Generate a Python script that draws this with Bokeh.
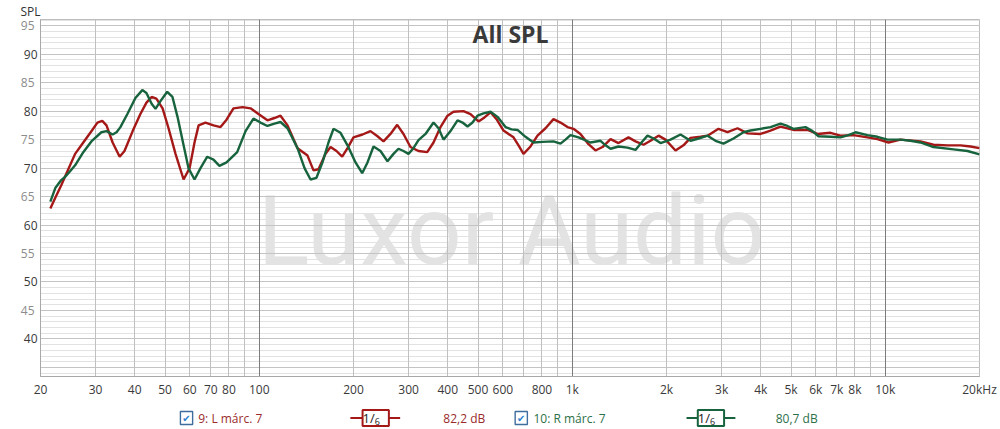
from bokeh.plotting import figure
from bokeh.layouts import column
from bokeh.models import Range1d, FixedTicker, Grid, Label, ColumnDataSource, LinearAxis
from bokeh.core.properties import value
from bokeh.embed import file_html
from bokeh.resources import INLINE

# ---------------- data ----------------
freq_l = [21.5, 22.3, 23.3, 24.4, 25.8, 27.4, 29.2, 30.4, 31.5, 32.5, 34.0, 35.8, 37.1, 39.4, 41.7,
          43.6, 45.3, 46.9, 49.1, 51.3, 54.0, 57.3, 59.9, 62.1, 64.0, 67.3, 71.4, 75.2, 78.6, 82.7,
          88.4, 93.8, 99.4, 106.2, 111.8, 116.9, 123.1, 132.5, 142.6, 149.0, 154.6, 162.8, 168.9,
          176.5, 184.0, 191.4, 200, 213.7, 226.6, 238.6, 249.4, 262.5, 275.8, 288.9, 304.1, 322.6,
          344.0, 360.3, 379.3, 399.4, 417.4, 449.3, 473.0, 501.7, 524.3, 548.0, 572.7, 603.0, 649.0,
          673.3, 698.5, 735.4, 774.3, 821.2, 870.9, 916.9, 965.4, 1009, 1062, 1127, 1186, 1249, 1325,
          1405, 1512, 1592, 1689, 1778, 1886, 1985, 2137, 2266, 2386, 2569, 2705, 2932, 3133, 3372,
          3629, 3993, 4298, 4625, 5089, 5643, 6074, 6684, 7193, 7915, 8773, 9443, 10240, 11185,
          12956, 14257, 15806, 17394, 18718, 20000]
spl_l = [62.9, 64.8, 67.0, 69.5, 72.5, 74.5, 76.6, 78.0, 78.3, 77.5, 74.5, 72.0, 73.0, 76.5, 79.5,
         81.5, 82.5, 82.2, 80.5, 77.0, 72.5, 68.0, 70.0, 74.5, 77.5, 78.0, 77.5, 77.2, 78.5, 80.5,
         80.7, 80.5, 79.5, 78.4, 78.8, 79.2, 77.5, 73.5, 72.2, 69.6, 69.8, 72.5, 73.7,
         73.0, 72.0, 73.5, 75.4, 75.9, 76.5, 75.6, 74.7, 76.0, 77.6, 76.0, 73.7, 73.0,
         72.8, 74.5, 77.2, 79.2, 79.9, 80.0, 79.5, 78.2, 78.9, 79.8, 78.6, 76.6, 75.4,
         74.0, 72.5, 73.8, 75.7, 77.0, 78.6, 78.0, 77.2, 76.9, 76.0, 74.2, 73.1, 73.7, 75.1,
         74.4, 75.4, 74.7, 74.1, 74.8, 75.7, 75.0, 73.1, 74.0, 75.3, 75.5, 75.7, 76.9, 76.3, 77.0,
         76.1, 76.0, 76.6, 77.3, 76.7, 76.7, 76.0, 76.2, 75.7, 75.8, 75.4, 75.1, 74.5, 75.0,
         74.7, 74.1, 74.0, 74.0, 73.8, 73.5]

freq_r = [21.5, 22.3, 23.3, 24.0, 24.9, 25.8, 27.4, 29.2, 31.3, 32.5, 34.0, 35.0, 36.0, 37.9, 40.2,
          42.3, 43.6, 45.3, 46.6, 48.4, 50.8, 52.8, 54.8, 57.3, 59.4, 62.1, 64.9, 68.2, 71.4, 74.6,
          78.6, 85.0, 90.4, 95.8, 100.9, 106.2, 111.8, 116.9, 123.1, 132.5, 139.5, 145.8, 152.3,
          159.2, 166.4, 172.6, 181.8, 191.4, 203.0, 213.2, 221.7, 231.7, 243.9, 256.8, 268.4, 278.4,
          288.9, 299.7, 310.9, 322.6, 339.7, 360.3, 373.8, 387.8, 408.3, 429.9, 446.0, 462.7, 480.0,
          498.0, 520.5, 548.0, 576.9, 611.9, 639.5, 668.4, 708.9, 751.8, 803.2, 870.9, 916.9, 951.3,
          987.0, 1047, 1143, 1231, 1277, 1325, 1405, 1501, 1592, 1664, 1739, 1818, 1914, 2060, 2217,
          2386, 2532, 2705, 2868, 3042, 3274, 3524, 3710, 3993, 4298, 4625, 4870, 5089, 5561, 5855,
          6119, 6684, 7193, 7629, 8032, 8773, 9443, 10165, 11185, 12040, 12956, 14257, 16521,
          18309, 20000]
spl_r = [64.1, 66.5, 67.9, 68.5, 69.5, 70.5, 72.8, 74.8, 76.3, 76.5, 75.9, 76.3, 77.2, 79.5, 82.3,
         83.7, 83.2, 81.3, 80.4, 81.8, 83.4, 82.5, 79.0, 74.0, 70.0, 68.0, 70.0, 72.0, 71.5, 70.4,
         71.0, 72.8, 76.5, 78.7, 78.0, 77.4, 77.8, 78.1, 77.0, 73.5, 70.0, 68.0, 68.3,
         71.0, 74.5, 76.9, 76.2, 74.0, 71.0, 69.1, 71.0, 73.8, 73.0, 71.2, 72.5, 73.4,
         73.0, 72.5, 73.5, 74.9, 76.0, 78.0, 77.0, 75.0, 76.5, 78.4, 78.0, 77.3, 78.0,
         79.2, 79.6, 79.9, 79.0, 77.2, 76.8, 76.7, 75.5, 74.5, 74.6, 74.7, 74.3, 75.0,
         75.8, 75.4, 74.5, 74.8, 74.0, 73.4, 73.8, 73.6, 73.2, 74.5, 75.7, 75.2, 74.4, 75.0, 75.9,
         74.8, 75.2, 75.7, 74.8, 74.3, 75.2, 76.3, 76.6, 76.9, 77.2, 77.8, 77.4, 76.9, 77.2, 76.5,
         75.6, 75.5, 75.4, 75.8, 76.3, 75.8, 75.5, 75.0, 75.0, 74.8, 74.5, 73.7, 73.3,
         73.0, 72.4]

x_ticks = [20, 30, 40, 50, 60, 70, 80, 100, 200, 300, 400, 500, 600, 800, 1000,
           2000, 3000, 4000, 5000, 6000, 7000, 8000, 10000, 20000]
x_tick_text = ["20", "30", "40", "50", "60", "70", "80", "100", "200", "300", "400", "500", "600",
               "800", "1k", "2k", "3k", "4k", "5k", "6k", "7k", "8k", "10k", "20kHz"]
y_ticks_dark = [40, 50, 60, 70, 80, 90]
y_ticks_light = [45, 55, 65, 75, 85, 95]
x_grid_minor = [30, 40, 50, 60, 70, 80, 90, 200, 300, 400, 500, 600, 700, 800, 900,
                2000, 3000, 4000, 5000, 6000, 7000, 8000, 9000]
x_grid_decade = [100, 1000, 10000]
y_grid_fine = list(range(34, 97))
y_grid_five = list(range(35, 96, 5))

legend_names = ["9: L márc. 7", "10: R márc. 7"]
legend_db = ["82,2 dB", "80,7 dB"]
smooth_num = "1/"
smooth_den = "6"

RED = "#a51818"
GREEN = "#17633d"
RED_TXT = "#9a2b2b"
GREEN_TXT = "#2c7049"
FONT = "Open Sans"

# ---------------- main figure ----------------
p = figure(width=1000, height=400, x_axis_type="log",
           x_range=Range1d(20, 20000), y_range=Range1d(33.4, 96.1),
           output_backend="svg", toolbar_location=None,
           min_border_left=40, min_border_right=21, min_border_top=18, min_border_bottom=22)
p.outline_line_color = "#bdbdbd"
p.background_fill_color = "white"
p.border_fill_color = "white"
p.xgrid.visible = False
p.ygrid.visible = False

p.title.text = "SPL"
p.title.align = "left"
p.title.offset = -20
p.title.standoff = 0
p.title.text_font = FONT
p.title.text_font_size = "12px"
p.title.text_font_style = "normal"
p.title.text_color = "#333333"

p.add_layout(Grid(dimension=1, ticker=FixedTicker(ticks=y_grid_fine), grid_line_color="#e2e2e2", grid_line_width=1))
p.add_layout(Grid(dimension=1, ticker=FixedTicker(ticks=y_grid_five), grid_line_color="#c4c4c4", grid_line_width=1))
p.add_layout(Grid(dimension=0, ticker=FixedTicker(ticks=x_grid_minor), grid_line_color="#c0c0c0", grid_line_width=1))
p.add_layout(Grid(dimension=0, ticker=FixedTicker(ticks=x_grid_decade), grid_line_color="#7c7c7c", grid_line_width=1))

xa = p.xaxis[0]
xa.ticker = FixedTicker(ticks=x_ticks)
xa.major_label_overrides = {t: s for t, s in zip(x_ticks, x_tick_text)}
xa.major_tick_out = 0
xa.major_tick_in = 0
xa.minor_tick_out = 0
xa.minor_tick_in = 0
xa.axis_line_color = "#a8a8a8"
xa.major_label_standoff = 4
xa.major_label_text_font = FONT
xa.major_label_text_font_size = "12px"
xa.major_label_text_color = "#3a3a3a"

ya = p.yaxis[0]
ya.ticker = FixedTicker(ticks=y_ticks_dark)
ya.major_tick_out = 0
ya.major_tick_in = 0
ya.minor_tick_out = 0
ya.minor_tick_in = 0
ya.axis_line_color = "#a8a8a8"
ya.major_label_standoff = 3
ya.major_label_text_font = FONT
ya.major_label_text_font_size = "12px"
ya.major_label_text_color = "#3a3a3a"

ya2 = LinearAxis(ticker=FixedTicker(ticks=y_ticks_light), axis_line_color=None,
                 major_tick_out=0, major_tick_in=0, minor_tick_out=0, minor_tick_in=0,
                 major_label_standoff=-14, major_label_text_font=FONT,
                 major_label_text_font_size="12px", major_label_text_color="#8c8c8c")
p.add_layout(ya2, "left")

# watermark
p.add_layout(Label(x=471, y=146, x_units="screen", y_units="screen", text="Luxor Audio",
                   text_align="center", text_baseline="alphabetic", text_font="Roboto",
                   text_font_size="96px", text_color="#e3e3e3", level="image"))

src_l = ColumnDataSource(dict(f=freq_l, spl=spl_l))
src_r = ColumnDataSource(dict(f=freq_r, spl=spl_r))
p.line("f", "spl", source=src_l, line_color=RED, line_width=2.4)
p.line("f", "spl", source=src_r, line_color=GREEN, line_width=2.4)

p.add_layout(Label(x=470, y=343, x_units="screen", y_units="screen", text="All SPL",
                   text_align="center", text_baseline="middle", text_font=FONT,
                   text_font_size="23px", text_font_style="bold", text_color="#3a3a3a"))

# ---------------- legend strip ----------------
lg = figure(width=1000, height=29, x_range=Range1d(0, 1000), y_range=Range1d(29, 0),
            output_backend="svg", toolbar_location=None, min_border=0,
            x_axis_location=None, y_axis_location=None)
lg.outline_line_color = None
lg.xgrid.visible = False
lg.ygrid.visible = False
lg.background_fill_color = "white"
lg.border_fill_color = "white"

LY = 17.5
lg.rect(x=[155.5, 512], y=[LY, LY], width=13, height=13, line_color="#3f6e9e",
        line_width=1.4, fill_color="white")
lg.text(x=[155.5, 512], y=[LY + 0.5, LY + 0.5], text=["✔", "✔"], text_align="center",
        text_baseline="middle", text_font=value("DejaVu Sans"),
        text_font_size=value("10px"), text_color="#2a7fd0")
lg.segment(x0=[330, 688], y0=[LY, LY], x1=[383, 740], y1=[LY, LY],
           line_color=[RED, GREEN], line_width=2)
lg.rect(x=[357, 714], y=[LY, LY], width=28, height=16, line_color=[RED, GREEN],
        line_width=2, fill_color="white")
lg.text(x=[356, 713], y=[LY, LY], text=[smooth_num, smooth_num], text_align="right",
        text_baseline="middle", text_font=value(FONT), text_font_size=value("13px"),
        text_color="#222222")
lg.text(x=[356, 713], y=[LY + 3, LY + 3], text=[smooth_den, smooth_den], text_align="left",
        text_baseline="middle", text_font=value(FONT), text_font_size=value("9px"),
        text_color="#222222")
lg.text(x=[168, 525], y=[LY, LY], text=legend_names, text_align="left",
        text_baseline="middle", text_font=value(FONT), text_font_size=value("12px"),
        text_color=[RED_TXT, GREEN_TXT])
lg.text(x=[429, 783], y=[LY, LY], text=legend_db, text_align="left",
        text_baseline="middle", text_font=value(FONT), text_font_size=value("12px"),
        text_color=[RED_TXT, GREEN_TXT])

layout = column(p, lg, spacing=0)
open("out.html", "w").write(file_html(layout, INLINE))
